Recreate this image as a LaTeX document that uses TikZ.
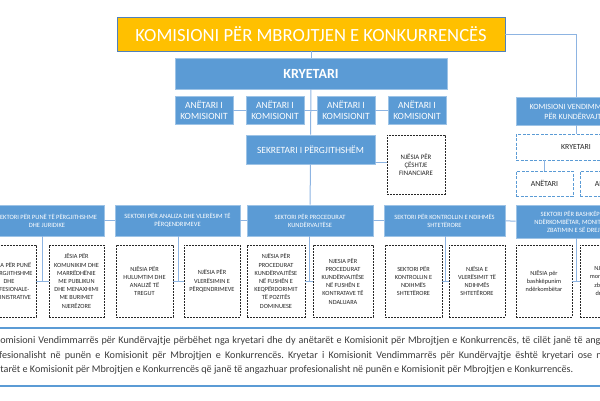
\documentclass[tikz,border=0pt]{standalone}
\usepackage{fontspec}
\setmainfont{Carlito}
\usetikzlibrary{calc,positioning}
\definecolor{boxblue}{HTML}{5B9BD5}
\definecolor{edgeblue}{HTML}{9DC3E6}
\definecolor{titlegold}{HTML}{FFC000}
\definecolor{titleedge}{HTML}{4F81BD}
\definecolor{linkblue}{HTML}{8DB4E2}
\definecolor{inkgrey}{HTML}{262626}
\definecolor{notegrey}{HTML}{3A3A3A}
\tikzstyle{headbox} = [rectangle, fill=titlegold, draw=titleedge, line width=0.8pt, text=white, minimum width=388pt, minimum height=34pt, inner sep=0pt, font=\fontsize{18.6}{20}\selectfont]
\tikzstyle{chairbox} = [rectangle, fill=boxblue, draw=edgeblue, line width=0.8pt, text=white, minimum width=272pt, minimum height=31pt, inner sep=0pt, font=\fontsize{14}{16}\selectfont\bfseries]
\tikzstyle{memberbox} = [rectangle, fill=boxblue, draw=edgeblue, line width=0.8pt, text=white, align=center, minimum width=58pt, minimum height=28pt, inner sep=0pt, font=\fontsize{9.5}{10.5}\selectfont]
\tikzstyle{sectorbox} = [rectangle, fill=boxblue, draw=edgeblue, line width=0.8pt, text=white, align=center, minimum height=31pt, inner sep=0pt, font=\fontsize{6.5}{8}\selectfont]
\tikzstyle{unitbox} = [rectangle, draw=inkgrey, dash pattern=on 2pt off 1pt, line width=0.9pt, fill=white, text=inkgrey, align=center, minimum height=72pt, inner sep=0pt, font=\fontsize{6.3}{8.2}\selectfont]
\tikzstyle{panelbox} = [rectangle, draw=boxblue, dash pattern=on 3pt off 1.5pt, line width=0.9pt, fill=white, text=inkgrey, inner sep=0pt, font=\fontsize{7.8}{9}\selectfont]
\tikzstyle{conn} = [draw=linkblue, line width=1pt]
\tikzstyle{rule} = [draw=boxblue, line width=2.6pt]

\begin{document}
\begin{tikzpicture}[x=1pt, y=-1pt]
	\useasboundingbox (0,0) rectangle (600,400);
	\clip (0,0) rectangle (600,400);

	\node (kmk) [headbox] at (311,34) {KOMISIONI PËR MBROJTJEN E KONKURRENCËS};
	\node (kryetari) [chairbox] at (311,73.5) {KRYETARI};

	\node (anetar1) [memberbox] at (204,110) {ANËTARI I\\KOMISIONIT};
	\node (anetar2) [memberbox] at (275,110) {ANËTARI I\\KOMISIONIT};
	\node (anetar3) [memberbox] at (346,110) {ANËTARI I\\KOMISIONIT};
	\node (anetar4) [memberbox] at (417,110) {ANËTARI I\\KOMISIONIT};

	\node (sekretari) [memberbox, minimum width=129pt, minimum height=29pt] at (310.5,149.5) {SEKRETARI I PËRGJITHSHËM};
	\node (financa) [unitbox, minimum width=58pt, minimum height=59pt, font=\fontsize{6.8}{8}\selectfont] at (416,164.5) {NJËSIA PËR\\ÇËSHTJE\\FINANCIARE};

	% komisioni vendimmarres
	\node (kvk) [memberbox, minimum width=120pt, font=\fontsize{8}{10}\selectfont] at (576,111) {KOMISIONI VENDIMMARRËS\\PËR KUNDËRVAJTJE};
	\node (vkryetari) [panelbox, minimum width=120pt, minimum height=26pt] at (576,147) {KRYETARI};
	\node (vanetar1) [panelbox, minimum width=57pt, minimum height=25pt] at (544.5,183.5) {ANËTARI};
	\node (vanetar2) [panelbox, minimum width=57pt, minimum height=25pt] at (608.5,183.5) {ANËTARI};

	% sektoret
	\node (sektor1) [sectorbox, minimum width=114pt] at (47,220.5) {SEKTORI PËR PUNË TË PËRGJITHSHME\\DHE JURIDIKE};
	\node (sektor2) [sectorbox, minimum width=125pt] at (177.5,220.5) {SEKTORI PËR ANALIZA DHE VLERËSIM TË\\PËRQENDRIMEVE};
	\node (sektor3) [sectorbox, minimum width=126pt] at (310,220.5) {SEKTORI PËR PROCEDURAT\\KUNDËRVAJTËSE};
	\node (sektor4) [sectorbox, minimum width=121pt] at (444.5,220.5) {SEKTORI PËR KONTROLLIN E NDIHMËS\\SHTETËRORE};
	\node (sektor5) [sectorbox, minimum width=124pt, minimum height=33pt] at (578,221.5) {SEKTORI PËR BASHKËPUNIM\\NDËRKOMBËTAR, MONITORIMIN\\ZBATIMIN E SË DREJTËS};

	% njesite
	\node (punePergj) [unitbox, minimum width=54pt] at (9,281) {NJËSIA PËR PUNË\\TË PËRGJITHSHME\\DHE\\PROFESIONALE-\\ADMINISTRATIVE};
	\node (komunikim) [unitbox, minimum width=55pt] at (76.5,281) {JËSIA PËR\\KOMUNIKIM DHE\\MARRËDHËNIE\\ME PUBLIKUN\\DHE MENAXHIMI\\ME BURIMET\\NJERËZORE};
	\node (hulumtim) [unitbox, minimum width=57pt] at (144.5,281) {NJËSIA PËR\\HULUMTIM DHE\\ANALIZË TË\\TREGUT};
	\node (vleresim) [unitbox, minimum width=56pt] at (212,281) {NJËSIA PËR\\VLERËSIMIN E\\PËRQENDRIMEVE};
	\node (keqperdorim) [unitbox, minimum width=58pt] at (276,281) {NJËSIA PËR\\PROCEDURAT\\KUNDËRVAJTËSE\\NË FUSHËN E\\KEQPËRDORIMIT\\TË POZITËS\\DOMINUESE};
	\node (kontrata) [unitbox, minimum width=60pt] at (343,281) {NJESIA PËR\\PROCEDURAT\\KUNDËRVAJTËSE\\NË FUSHËN E\\KONTRATAVE TË\\NDALUARA};
	\node (kontrolli) [unitbox, minimum width=57pt] at (413.5,281) {SEKTORI PËR\\KONTROLLIN E\\NDIHMËS\\SHTETËRORE};
	\node (ndihma) [unitbox, minimum width=56pt] at (477,281) {NJËSIA E\\VLERËSIMIT TË\\NDIHMËS\\SHTETËRORE};
	\node (bashkepunim) [unitbox, minimum width=56pt] at (544,281) {NJËSIA për\\bashkëpunim\\ndërkombëtar};
	\node (monitorim) [unitbox, minimum width=56pt] at (608,281) {NJËSIA për\\monitorimin e\\zbatimit të\\drejtësisë};

	\coordinate (gap1) at ($(punePergj.east)!0.5!(komunikim.west)$);
	\coordinate (gap2) at ($(hulumtim.east)!0.5!(vleresim.west)$);
	\coordinate (gap3) at ($(keqperdorim.east)!0.5!(kontrata.west)$);
	\coordinate (gap4) at ($(kontrolli.east)!0.5!(ndihma.west)$);
	\coordinate (gap5) at ($(bashkepunim.east)!0.5!(monitorim.west)$);

	% shenimi
	\draw[rule] (0,328) -- (600,328);
	\draw[rule] (0,386) -- (600,386);
	\node (shenim) [anchor=north west, align=justify, text width=643pt, inner sep=0pt, text=notegrey, font=\fontsize{10.14}{14.5}\selectfont\frenchspacing] at (-15,336.5) {\hspace*{10pt}Komisioni Vendimmarrës për Kundërvajtje përbëhet nga kryetari dhe dy anëtarët e Komisionit për Mbrojtjen e Konkurrencës, të cilët janë të angazhuar\linebreak profesionalisht në punën e Komisionit për Mbrojtjen e Konkurrencës. Kryetar i Komisionit Vendimmarrës për Kundërvajtje është kryetari ose një nga\linebreak anëtarët e Komisionit për Mbrojtjen e Konkurrencës që janë të angazhuar profesionalisht në punën e Komisionit për Mbrojtjen e Konkurrencës.};

	\draw[conn] (kmk) -- (kryetari);
	\draw[conn] (kryetari) -- (sekretari);
	\draw[conn] (sekretari) -- (sektor3);
	\draw[conn] (anetar1) -- (anetar2);
	\draw[conn] (anetar2) -- (anetar3);
	\draw[conn] (anetar3) -- (anetar4);
	\draw[conn] ([yshift=2pt]sekretari.south east) -- ([yshift=2pt]sekretari.south east -| financa.west);
	\draw[conn] (kmk.east) -| (kvk.north);
	\draw[conn] (kvk) -- (vkryetari);
	\draw[conn] (vanetar1.north) -- (vanetar1.north |- vkryetari.south);
	\draw[conn] (sektor1) -- (sektor2);
	\draw[conn] (sektor2) -- (sektor3);
	\draw[conn] (sektor3) -- (sektor4);
	\draw[conn] (sektor4) -- (sektor5);
	\draw[conn] (sektor1.south -| gap1) -- (gap1);
	\draw[conn] (punePergj) -- (komunikim);
	\draw[conn] (sektor2.south -| gap2) -- (gap2);
	\draw[conn] (hulumtim) -- (vleresim);
	\draw[conn] (sektor3.south -| gap3) -- (gap3);
	\draw[conn] (keqperdorim) -- (kontrata);
	\draw[conn] (sektor4.south -| gap4) -- (gap4);
	\draw[conn] (kontrolli) -- (ndihma);
	\draw[conn] (sektor5.south -| gap5) -- (gap5);
	\draw[conn] (bashkepunim) -- (monitorim);
\end{tikzpicture}
\end{document}
